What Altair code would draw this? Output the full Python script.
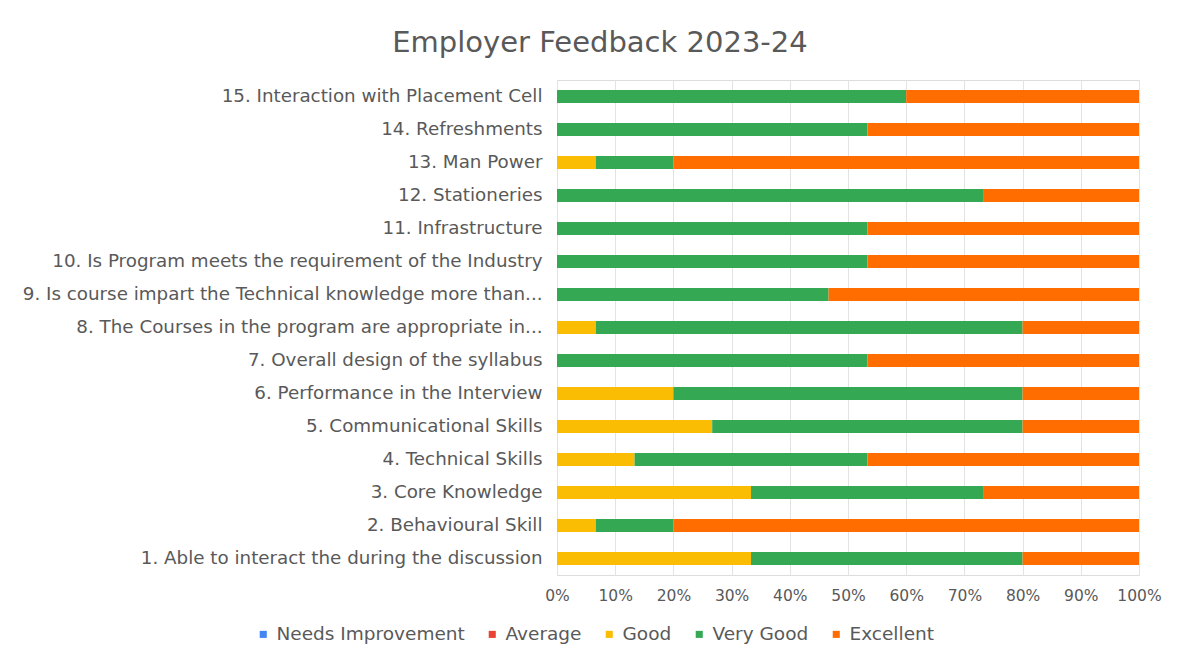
import altair as alt
import pandas as pd

categories = [
    "1. Able to interact the during the discussion",
    "2. Behavioural Skill",
    "3. Core Knowledge",
    "4. Technical Skills",
    "5. Communicational Skills",
    "6. Performance in the Interview",
    "7. Overall design of the syllabus",
    "8. The Courses in the program are appropriate in...",
    "9. Is course impart the Technical knowledge more than...",
    "10. Is Program meets the requirement of the Industry",
    "11. Infrastructure",
    "12. Stationeries",
    "13. Man Power",
    "14. Refreshments",
    "15. Interaction with Placement Cell",
]
ratings = ["Needs Improvement", "Average", "Good", "Very Good", "Excellent"]
colors = ["#4285F4", "#EA4335", "#FBBC04", "#34A853", "#FF6D01"]

needs_improvement = [0, 0, 0, 0, 0, 0, 0, 0, 0, 0, 0, 0, 0, 0, 0]
average = [0, 0, 0, 0, 0, 0, 0, 0, 0, 0, 0, 0, 0, 0, 0]
good = [5, 1, 5, 2, 4, 3, 0, 1, 0, 0, 0, 0, 1, 0, 0]
very_good = [7, 2, 6, 6, 8, 9, 8, 11, 7, 8, 8, 11, 2, 8, 9]
excellent = [3, 12, 4, 7, 3, 3, 7, 3, 8, 7, 7, 4, 12, 7, 6]

series = [needs_improvement, average, good, very_good, excellent]
rows = []
for ri, (name, vals) in enumerate(zip(ratings, series)):
    for ci, cat in enumerate(categories):
        rows.append({"category": cat, "rating": name, "count": vals[ci], "order": ri})
df = pd.DataFrame(rows)

gray = "#595959"
font = "DejaVu Sans"

bars = alt.Chart(df).mark_bar(size=13).encode(
    y=alt.Y("category:N", sort=categories[::-1], title=None,
            axis=alt.Axis(labelFontSize=18.3, labelColor=gray, labelFont=font,
                          labelLimit=600, labelPadding=15, ticks=False,
                          domain=False, grid=False)),
    x=alt.X("count:Q", stack="normalize", title=None,
            scale=alt.Scale(domain=[0, 1], nice=False),
            axis=alt.Axis(format=".0%", values=[i / 10 for i in range(11)],
                          labelFontSize=15.5, labelColor=gray, labelFont=font,
                          labelPadding=13, labelOverlap=False, labelFlush=False,
                          ticks=False, domain=False, grid=True, gridColor="#e3e3e3")),
    color=alt.Color("rating:N", sort=ratings,
                    scale=alt.Scale(domain=ratings, range=colors),
                    legend=alt.Legend(title=None, orient="none", direction="horizontal",
                                      legendX=-303, legendY=545, labelLimit=400,
                                      labelFontSize=18.5, labelColor=gray, labelFont=font,
                                      symbolType="square", symbolSize=50,
                                      columnPadding=18, labelOffset=4)),
    order=alt.Order("order:Q"),
)

chart = bars.properties(
    width=582, height=495,
    title=alt.TitleParams("Employer Feedback 2023-24", fontSize=29, color=gray,
                          font=font, fontWeight="normal", dx=-248, offset=22),
    padding={"left": 549, "top": 72, "right": 37, "bottom": 76},
    autosize=alt.AutoSizeParams(type="none"),
).configure_view(stroke=None).configure(background="white")

chart.save("out.html", embed_options={"renderer": "svg", "actions": False})
